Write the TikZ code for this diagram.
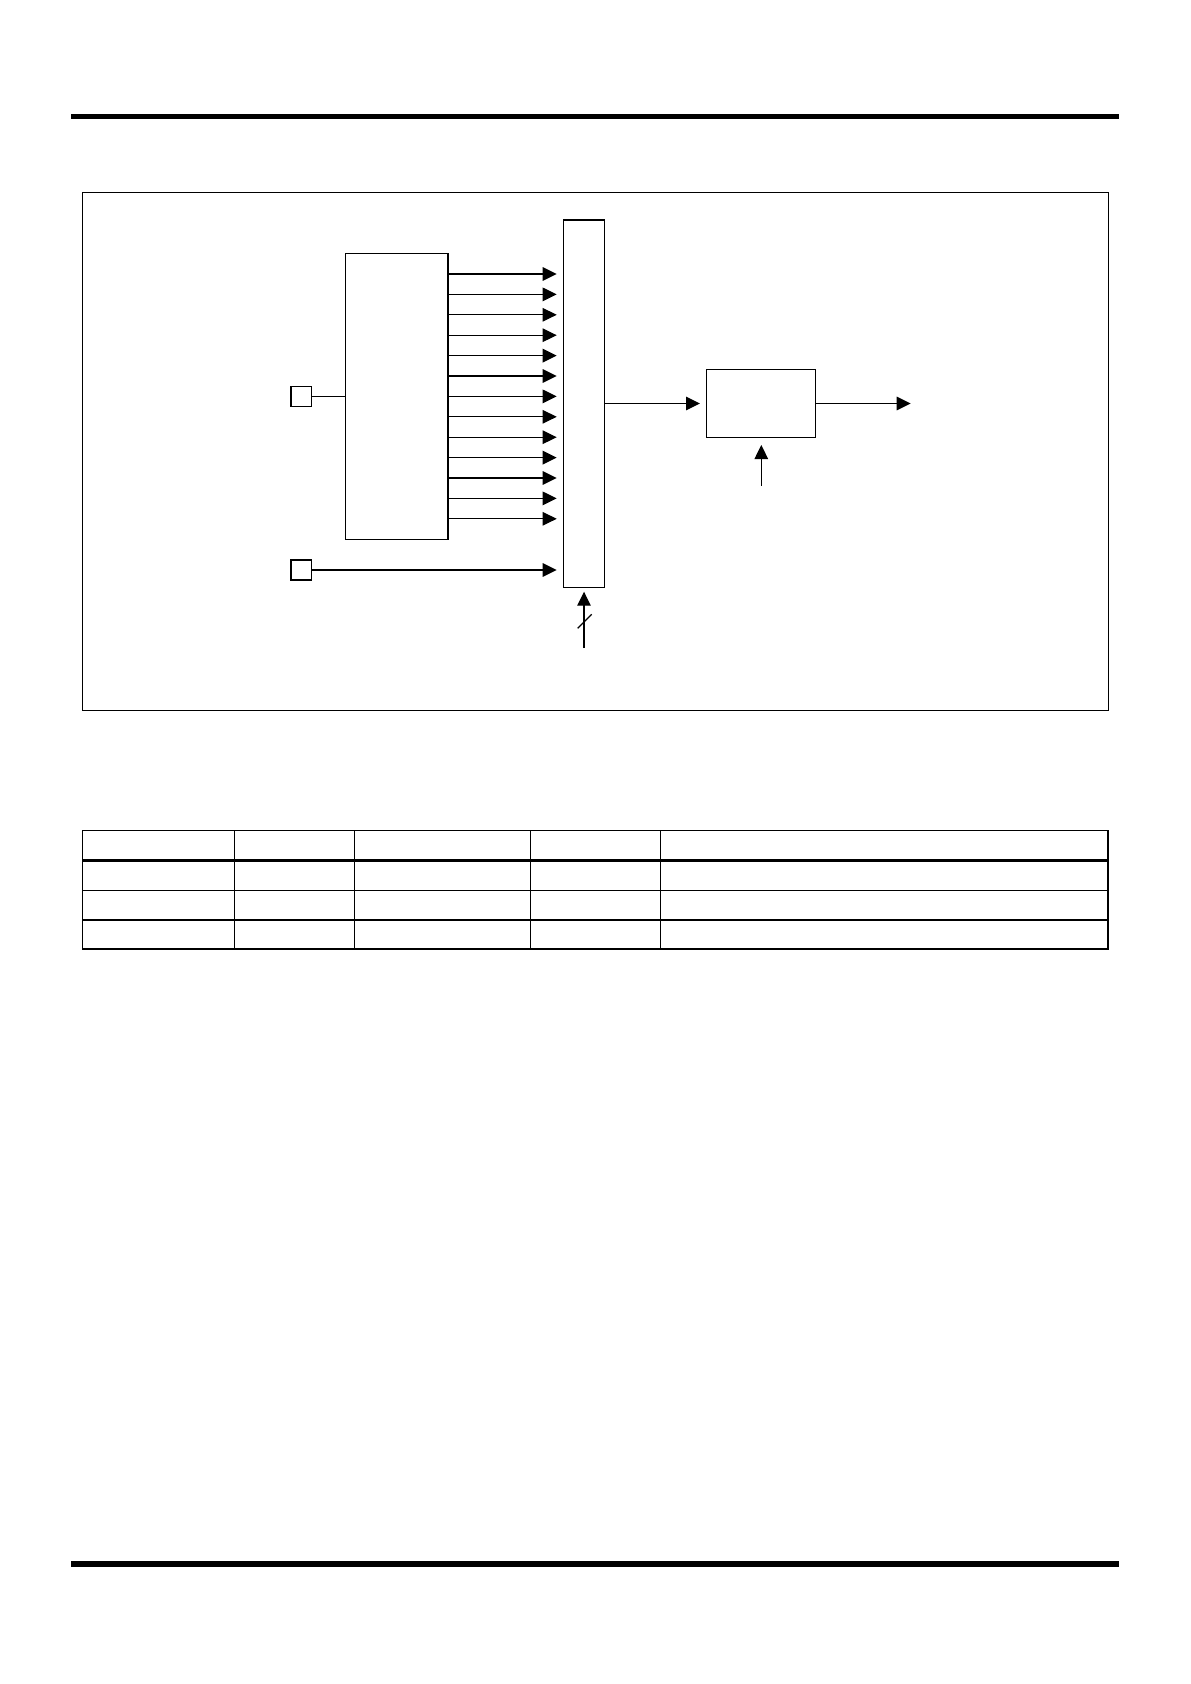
\documentclass[tikz,border=0pt]{standalone}
\usetikzlibrary{arrows.meta}
\begin{document}
\begin{tikzpicture}[x=1pt,y=-1pt,
  box/.style={draw,line width=1.1pt,inner sep=0pt,outer sep=0pt},
  arr/.style={line width=1.3pt,-{Triangle[length=14pt,width=13.5pt]}},
  ln/.style={line width=1.3pt},
  grid/.style={line width=1.2pt}]
\useasboundingbox (0,0) rectangle (1191,1684);
% page rules
\fill (71,113.7) rectangle (1119,119);
\fill (71,1561) rectangle (1119,1566.7);
% frame
\draw[line width=1pt] (82.3,192.3) rectangle (1108,710.3);
% blocks
\node[box,minimum width=102.3pt,minimum height=286pt] (big) at (396.85,396.3) {};
\node[box,minimum width=41pt,minimum height=367.3pt] (mux) at (583.8,403.65) {};
\node[box,minimum width=109pt,minimum height=68.4pt] (reg) at (761.2,403.5) {};
\node[box,minimum width=20.7pt,minimum height=20pt] (in1) at (301.35,396.7) {};
\node[box,minimum width=20.7pt,minimum height=20pt] (in2) at (301.35,570) {};
% connectors
\draw[ln] (in1.east) -- (big.west |- in1.east);
\foreach \i in {0,...,12} {
  \coordinate (s\i) at (448,274+20.4*\i);
  \draw[arr] (big.east |- s\i) -- ([xshift=-6.6pt]mux.west |- s\i);
}
\draw[arr] (in2.east) -- ([xshift=-6.6pt]mux.west |- in2.east);
\draw[arr] (mux.east |- reg.west) -- ([xshift=-6.7pt]reg.west);
\coordinate (out) at (910.7,403.5);
\draw[arr] (reg.east) -- (out);
\coordinate (clk) at (761.3,485.7);
\draw[arr] (clk) -- ([yshift=-7.3pt]clk |- reg.south);
\coordinate (sel) at (584,648);
\draw[arr] (sel) -- ([yshift=-4.4pt]sel |- mux.south);
\draw[ln] (577.7,628.3) -- (591.7,614.3);
% table
\draw[grid] (82.3,830.7) rectangle (1108,949);
\foreach \y in {890.3,920} \draw[grid] (82.3,\y) -- (1108,\y);
\draw[line width=2.8pt] (82.3,860.3) -- (1108,860.3);
\foreach \x in {234.3,354.7,530.6,660.5} \draw[grid] (\x,830.7) -- (\x,949);
\end{tikzpicture}
\end{document}
